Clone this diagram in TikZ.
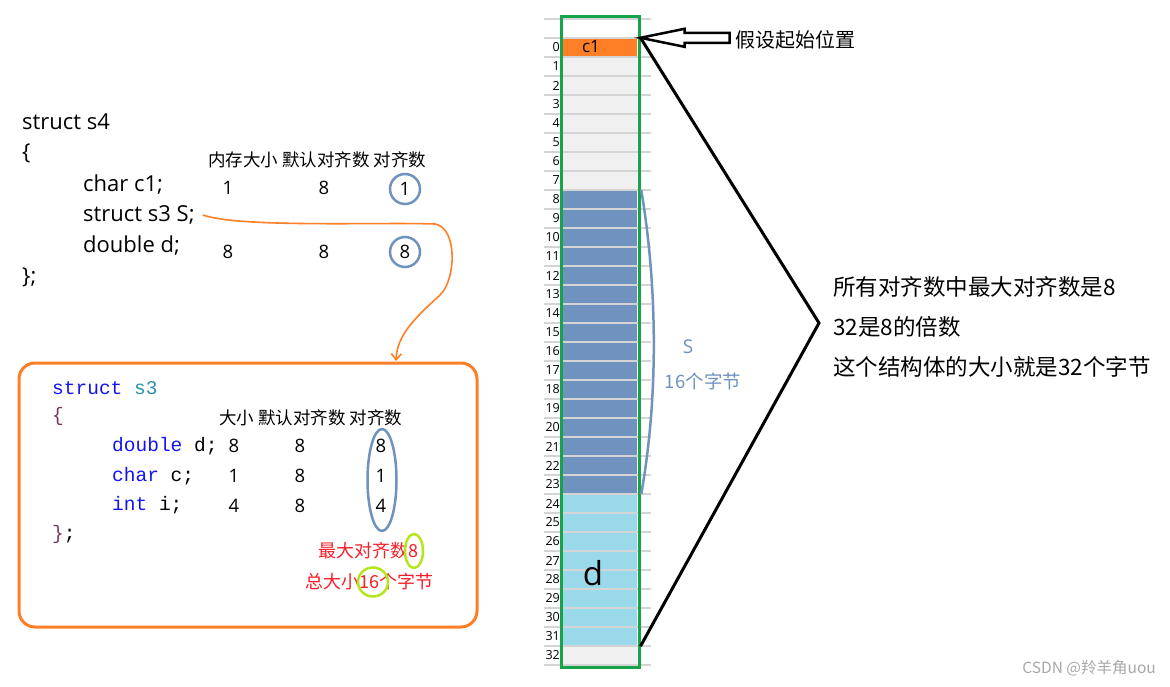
\documentclass[tikz,border=0pt]{standalone}
\usepackage{fontspec}
\setmainfont{Open Sans}
\setmonofont{Liberation Mono}
\newfontfamily\cjk{Noto Sans CJK SC}
\usetikzlibrary{arrows.meta,positioning,calc,shapes.geometric}
\definecolor{orng}{HTML}{FF7F27}
\definecolor{steel}{HTML}{7092BE}
\definecolor{aqua}{HTML}{99D9EA}
\definecolor{cellgray}{HTML}{F0F0F0}
\definecolor{gridgray}{HTML}{D4D4D4}
\definecolor{colgreen}{HTML}{17A34A}
\definecolor{limeg}{HTML}{B5E61D}
\definecolor{alert}{HTML}{F51E28}
\definecolor{kw}{HTML}{1414F0}
\definecolor{tname}{HTML}{2B91AF}
\definecolor{brace}{HTML}{7A3860}
\definecolor{wmgray}{HTML}{A8A8A8}
\tikzset{code/.style={anchor=west,inner sep=0pt,font=\fontsize{22}{25}\selectfont},
 hdr/.style={anchor=west,inner sep=0pt,font=\cjk\fontsize{17.5}{20}\selectfont},
 val/.style={inner sep=0pt,font=\fontsize{18.5}{20}\selectfont},
 ring/.style={val,draw=steel,line width=2.5pt,circle,minimum size=30pt},
 mono/.style={anchor=west,inner sep=0pt,font=\ttfamily\fontsize{19.5}{22}\selectfont},
 note/.style={anchor=west,inner sep=0pt,font=\cjk\fontsize{22.5}{26}\selectfont},
 cell/.style={minimum width=74pt,minimum height=19pt,inner sep=0pt},
 rownum/.style={anchor=east,inner sep=0pt,font=\fontsize{12.5}{13}\selectfont}}

\begin{document}
\begin{tikzpicture}[x=1pt,y=-1pt,
 redtxt/.style={anchor=west,inner sep=0pt,text=alert,font=\cjk\fontsize{18}{20}\selectfont},
 limering/.style={draw=limeg,line width=2.5pt,ellipse,inner sep=0pt}]
\useasboundingbox (0,0) rectangle (1170,687);
\fill[white] (0,0) rectangle (1170,687);

\node[code] (s4name) at (22,122) {struct s4};
\node[code] (s4open) at (22,153) {\{};
\node[code] (c1line) at (83,185) {char c1;};
\node[code] (Sline) at (83,215) {struct s3 S;};
\node[code] (dline) at (83,246) {double d;};
\node[code] (s4close) at (22,277) {\};};
\node[hdr] (s4hdr) at (208,160) {内存大小 默认对齐数 对齐数};
\node[val] (c1size) at (228,188) {1};
\node[val] (c1def) at (324,188) {8};
\node[ring] (c1al) at (405,189) {1};
\node[val] (dsize) at (228,252) {8};
\node[val] (ddef) at (324,252) {8};
\node[ring] (dal) at (405,252) {8};

\node[draw=orng,line width=3pt,rounded corners=16pt,minimum width=458pt,minimum height=264pt] (s3box) at (248,495) {};
\coordinate (dropin) at (396,361);
\draw[orng,line width=1.6pt,-{Straight Barb[length=6pt,width=10pt]}] ([xshift=8pt]Sline.east)
 .. controls (240,228) and (380,222) .. (435,224) .. controls (458,228) and (456,280) .. (440,295)
 .. controls (415,318) and (397,335) .. (dropin);

\node[mono] (s3name) at (52,388) {\textcolor{kw}{struct} \textcolor{tname}{s3}};
\node[mono] (s3open) at (52,416) {\textcolor{brace}{\{}};
\node[mono] (dline3) at (112,446) {\textcolor{kw}{double} d;};
\node[mono] (cline3) at (112,476) {\textcolor{kw}{char} c;};
\node[mono] (iline3) at (112,505) {\textcolor{kw}{int} i;};
\node[mono] (s3close) at (52,534) {\textcolor{brace}{\}};};
\node[hdr] (s3hdr) at (219,418) {大小 默认对齐数 对齐数};
\node[val] (dsz3) at (234,446) {8};
\node[val] (ddf3) at (300,446) {8};
\node[val] (dal3) at (381,446) {8};
\node[val] (csz3) at (234,476) {1};
\node[val] (cdf3) at (300,476) {8};
\node[val] (cal3) at (381,476) {1};
\node[val] (isz3) at (234,506) {4};
\node[val] (idf3) at (300,506) {8};
\node[val] (ial3) at (381,506) {4};
\node[draw=steel,line width=2.5pt,ellipse,minimum width=29pt,minimum height=102pt] (s3align) at (382,480) {};
\node[redtxt] (maxal) at (318,551) {最大对齐数8};
\node[limering,minimum width=18pt,minimum height=34pt] (maxring) at (414,551) {};
\node[redtxt] (total) at (305,582) {总大小16个字节};
\node[limering,minimum width=30pt,minimum height=29pt] (totring) at (373,582) {};

\foreach \i in {0,...,32}{
 \pgfmathtruncatemacro\k{(\i==0)+2*(\i>7)*(\i<24)+3*(\i>23)*(\i<32)}
 \ifcase\k \def\cf{cellgray}\or\def\cf{orng}\or\def\cf{steel}\or\def\cf{aqua}\fi
 \node[cell,fill=\cf] (m\i) at (600,47.5+19*\i) {};
 \node[rownum] (n\i) at (560,47.5+19*\i) {\i};
}
\foreach \i in {-1,...,33} \draw[gridgray,line width=1.2pt] (544,38+19*\i) -- (651,38+19*\i);
\node[draw=colgreen,line width=3pt,minimum width=78pt,minimum height=650pt,inner sep=0pt] (memcol) at (600,342) {};
\node[inner sep=0pt,font=\fontsize{17}{18}\selectfont] (c1cell) at (591,47) {c1};
\node[inner sep=0pt,font=\fontsize{33}{34}\selectfont] (dcell) at (593,573) {d};

\draw[steel,line width=2.5pt] ([xshift=4pt]m8.north east) .. controls (658,290) and (658,400) .. ([xshift=4pt]m23.south east);
\node[inner sep=0pt,text=steel,font=\fontsize{19}{21}\selectfont] (Slbl) at (688,347) {S};
\node[inner sep=0pt,text=steel,font=\cjk\fontsize{18.5}{21}\selectfont] (Sbytes) at (703,381) {16个字节};

\coordinate (apex) at (819,323);
\draw[line width=3pt] (m0.north -| memcol.east) -- (apex) -- (m31.south -| memcol.east);
\draw[line width=2.5pt,fill=white] (m0.north -| memcol.east) -- ++(44,-9) -- ++(0,4) -- ++(45,0)
 -- ++(0,10) -- ++(-45,0) -- ++(0,4) -- cycle;
\node[anchor=west,inner sep=0pt,font=\cjk\fontsize{20}{22}\selectfont] (start) at (735,40) {假设起始位置};

\node[note] (sum1) at (833,287) {所有对齐数中最大对齐数是8};
\node[note] (sum2) at (833,327) {32是8的倍数};
\node[note] (sum3) at (833,367) {这个结构体的大小就是32个字节};
\node[anchor=east,inner sep=0pt,text=wmgray,font=\cjk\fontsize{15.5}{18}\selectfont] (wm) at (1156,668) {CSDN @羚羊角uou};
\end{tikzpicture}
\end{document}
